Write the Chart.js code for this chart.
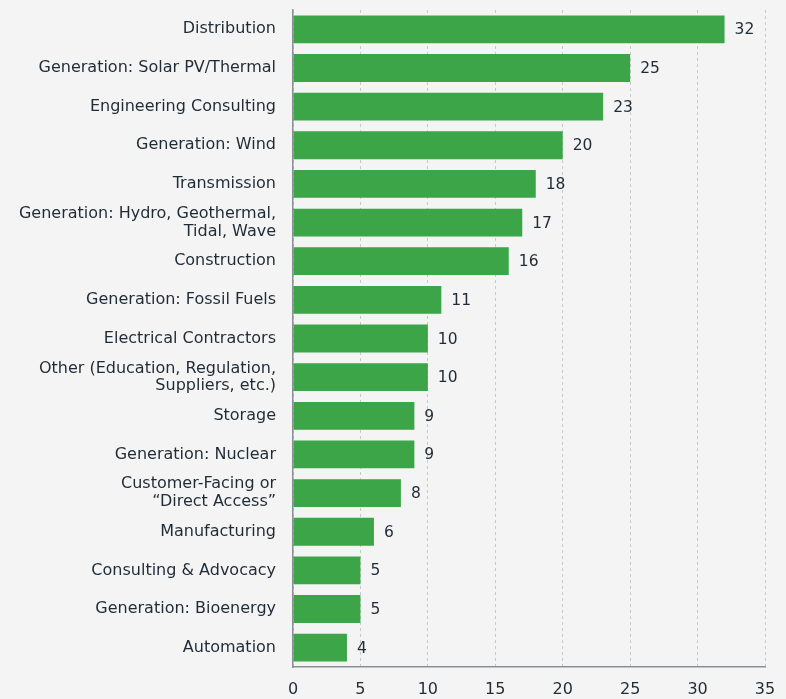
<!DOCTYPE html>
<html>
<head>
<meta charset="utf-8">
<script src="https://cdn.jsdelivr.net/npm/chart.js@4"></script>
<style>
  html, body { margin: 0; padding: 0; background: #f4f4f4; }
  #wrap { width: 786px; height: 699px; }
</style>
</head>
<body>
<div id="wrap"><canvas id="chart"></canvas></div>
<script>
const categories = [
    "Distribution",
    "Generation: Solar PV/Thermal",
    "Engineering Consulting",
    "Generation: Wind",
    "Transmission",
    ["Generation: Hydro, Geothermal,", "Tidal, Wave"],
    "Construction",
    "Generation: Fossil Fuels",
    "Electrical Contractors",
    ["Other (Education, Regulation,", "Suppliers, etc.)"],
    "Storage",
    "Generation: Nuclear",
    ["Customer-Facing or", "\u201cDirect Access\u201d"],
    "Manufacturing",
    "Consulting & Advocacy",
    "Generation: Bioenergy",
    "Automation"
];
const counts = [32, 25, 23, 20, 18, 17, 16, 11, 10, 10, 9, 9, 8, 6, 5, 5, 4];
const xTicks = [0, 5, 10, 15, 20, 25, 30, 35];

const FONT = "'DejaVu Sans', sans-serif";
const TEXT = "#1f2b36";

// value labels right of each bar
const valueLabels = {
    id: "valueLabels",
    afterDatasetsDraw(chart) {
        const ctx = chart.ctx;
        const meta = chart.getDatasetMeta(0);
        ctx.save();
        ctx.font = "15.5px " + FONT;
        ctx.fillStyle = TEXT;
        ctx.textAlign = "left";
        ctx.textBaseline = "middle";
        meta.data.forEach((bar, i) => {
            ctx.fillText(String(counts[i]), bar.x + 10, bar.y + 1);
        });
        ctx.restore();
    }
};

new Chart(document.getElementById("chart"), {
    type: "bar",
    data: {
        labels: categories,
        datasets: [{
            data: counts,
            backgroundColor: "#3ba547",
            barPercentage: 0.72,
            categoryPercentage: 1.0
        }]
    },
    options: {
        indexAxis: "y",
        responsive: true,
        maintainAspectRatio: false,
        animation: false,
        layout: { padding: { top: 10, right: 21, left: 0, bottom: 0 } },
        plugins: {
            legend: { display: false },
            tooltip: { enabled: false }
        },
        scales: {
            x: {
                min: 0,
                max: 35,
                afterBuildTicks: (axis) => { axis.ticks = xTicks.map(v => ({ value: v })); },
                afterFit: (axis) => {
                    axis.height = 32;
                    axis.paddingLeft = 0;
                    axis.paddingRight = 0;
                },
                grid: {
                    color: "#c8c8c8",
                    drawTicks: false
                },
                border: { display: true, color: "#8a8f94", width: 1.5, dash: [3, 3] },
                ticks: {
                    color: TEXT,
                    font: { family: FONT, size: 16 },
                    padding: 13
                }
            },
            y: {
                afterFit: (axis) => {
                    axis.width = 293;
                    axis.paddingTop = 0;
                    axis.paddingBottom = 0;
                },
                grid: { display: false, drawTicks: false },
                border: { display: true, color: "#8a8f94", width: 1.5 },
                ticks: {
                    color: TEXT,
                    font: { family: FONT, size: 16, lineHeight: 1.1 },
                    padding: 17,
                    autoSkip: false
                }
            }
        }
    },
    plugins: [valueLabels]
});
</script>
</body>
</html>
